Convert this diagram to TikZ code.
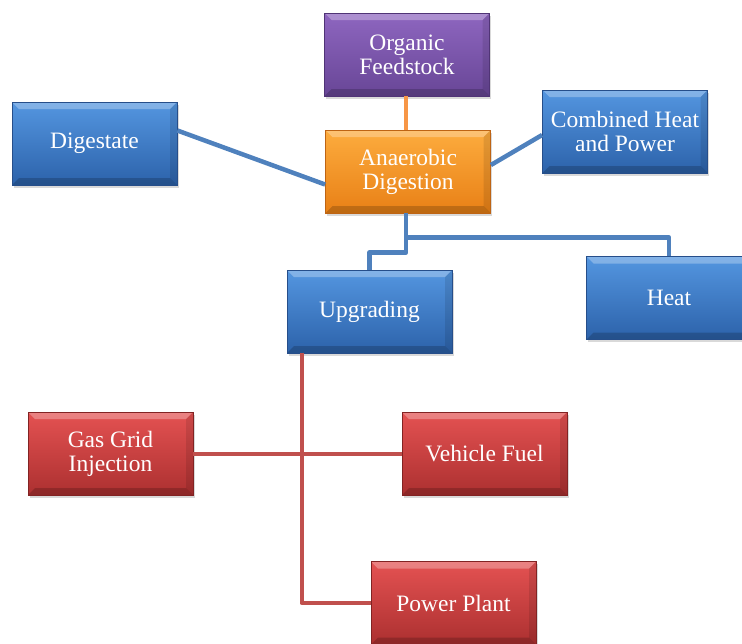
\documentclass[tikz,border=0pt]{standalone}
\usepackage{fontspec}
\setmainfont{Liberation Serif}
\usetikzlibrary{shadows}
\definecolor{bluetop}{RGB}{84,150,224}
\definecolor{bluebot}{RGB}{44,98,170}
\definecolor{blueedge}{RGB}{38,78,138}
\definecolor{purptop}{RGB}{142,102,192}
\definecolor{purpbot}{RGB}{104,70,150}
\definecolor{purpedge}{RGB}{80,52,118}
\definecolor{orgtop}{RGB}{253,172,62}
\definecolor{orgbot}{RGB}{232,128,22}
\definecolor{orgedge}{RGB}{190,100,20}
\definecolor{redtop}{RGB}{228,82,82}
\definecolor{redbot}{RGB}{172,48,48}
\definecolor{rededge}{RGB}{130,35,35}
\definecolor{blueline}{RGB}{79,129,189}
\definecolor{orgline}{RGB}{247,150,70}
\definecolor{redline}{RGB}{192,80,77}
\tikzset{
  bevel/.style={path picture={
      \fill[white,opacity=.28] (path picture bounding box.north west) -- (path picture bounding box.north east)
        -- ([xshift=-7pt,yshift=-7pt]path picture bounding box.north east) -- ([xshift=7pt,yshift=-7pt]path picture bounding box.north west) -- cycle;
      \fill[black,opacity=.18] (path picture bounding box.south west) -- (path picture bounding box.south east)
        -- ([xshift=-7pt,yshift=7pt]path picture bounding box.south east) -- ([xshift=7pt,yshift=7pt]path picture bounding box.south west) -- cycle;
      \fill[black,opacity=.10] (path picture bounding box.north east) -- (path picture bounding box.south east)
        -- ([xshift=-7pt,yshift=7pt]path picture bounding box.south east) -- ([xshift=-7pt,yshift=-7pt]path picture bounding box.north east) -- cycle;}},
  box/.style={rectangle, minimum width=165pt, minimum height=83pt, inner sep=0pt, align=center,
    text=white, line width=0.8pt, bevel, drop shadow={shadow xshift=1.5pt, shadow yshift=-2.5pt, opacity=.3}},
  bluebox/.style={box, draw=blueedge, top color=bluetop, bottom color=bluebot},
  purpbox/.style={box, draw=purpedge, top color=purptop, bottom color=purpbot},
  orgbox/.style={box, draw=orgedge, top color=orgtop, bottom color=orgbot},
  redbox/.style={box, draw=rededge, top color=redtop, bottom color=redbot},
  link/.style={line width=4.5pt, line join=round}
}
\begin{document}
\begin{tikzpicture}[x=1pt, y=-1pt, font=\fontsize{23.5}{24}\selectfont]
  \useasboundingbox (0,0) rectangle (742,643);
  \clip (0,0) rectangle (742,643);

  % boxes
  \node[purpbox] (feed) at (407,54.5) {Organic\\Feedstock};
  \node[bluebox] (dig) at (94.5,143.5) {Digestate};
  \node[bluebox] (chp) at (625,131.5) {Combined Heat\\and Power};
  \node[orgbox] (ad) at (408,171.5) {Anaerobic\\Digestion};
  \node[bluebox] (upg) at (369.5,311.5) {Upgrading};
  \node[bluebox] (heat) at (669,298) {Heat};
  \node[redbox] (gas) at (110.5,453.5) {Gas Grid\\Injection};
  \node[redbox] (veh) at (484.5,453.5) {Vehicle Fuel};
  \node[redbox] (pp) at (453.5,603) {Power Plant};

  % feedstock into digestion
  \draw[link, orgline] ([xshift=-1pt]feed.south) -- ([xshift=-2pt]ad.north);

  % digestion outputs
  \draw[link, blueline] ([yshift=13pt]dig.east) -- ([yshift=-13pt]ad.west);
  \draw[link, blueline] ([yshift=-3.5pt]chp.west) -- ([yshift=6.5pt]ad.east);
  \draw[link, blueline] ([xshift=-2pt]ad.south) -- ++(0,39) -| (upg.north);
  \draw[link, blueline] ([xshift=-2pt]ad.south) -- ++(0,24) -| (heat.north);

  % biomethane uses
  \coordinate (upgout) at ([xshift=15pt]upg.south west);
  \draw[link, redline, line width=4pt] (upgout) |- (gas.east);
  \draw[link, redline, line width=4pt] (upgout) |- (veh.west);
  \draw[link, redline, line width=4pt] (upgout) |- (pp.west);
\end{tikzpicture}
\end{document}
